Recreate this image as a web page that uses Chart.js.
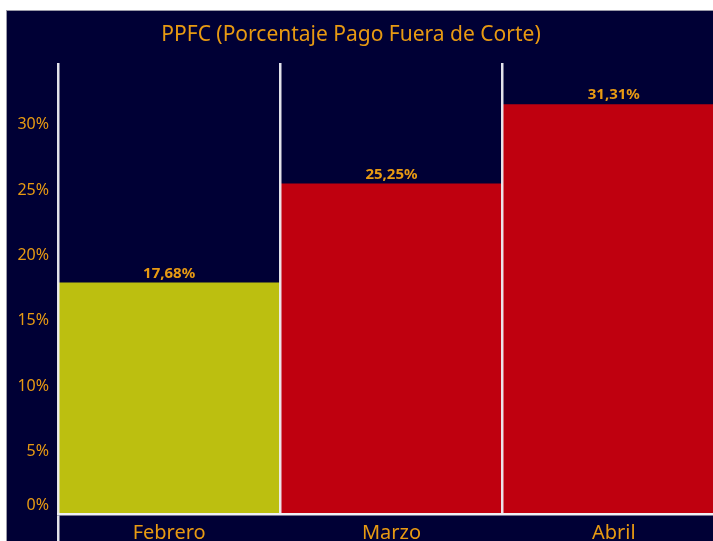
<!DOCTYPE html>
<html>
<head>
<meta charset="utf-8">
<script src="https://cdn.jsdelivr.net/npm/chart.js@4"></script>
<style>
  html, body { margin: 0; padding: 0; background: #ffffff; overflow: hidden; }
  #panel {
    position: absolute; left: 6px; top: 10px; width: 720px; height: 540px;
    background: #000035; overflow: hidden; border-top: 1px solid #9a9aa8; border-left: 1px solid #9a9aa8;
  }
  #chart { position: absolute; left: -30px; top: -1px; }
</style>
</head>
<body>
<div id="panel"><canvas id="chart" width="748" height="570"></canvas></div>
<script>
'use strict';

var months = ['Febrero', 'Marzo', 'Abril'];
var ppfcValues = [17.68, 25.25, 31.31];
var barColors = ['#bcbf10', '#bf000f', '#bf000f'];
var yTicks = [0, 5, 10, 15, 20, 25, 30];

var ORANGE = '#e89a12';
var FONT = '"Noto Sans", "Open Sans", sans-serif';
var LINE = 'rgba(238,238,244,0.95)';

var valueLabels = {
    id: 'valueLabels',
    afterDatasetsDraw: function(chart) {
        var ctx = chart.ctx;
        var meta = chart.getDatasetMeta(0);
        ctx.save();
        ctx.fillStyle = ORANGE;
        ctx.font = '700 15px ' + FONT;
        ctx.textAlign = 'center';
        ctx.textBaseline = 'bottom';
        meta.data.forEach(function(bar, i) {
            var txt = ppfcValues[i].toFixed(2).replace('.', ',') + '%';
            ctx.fillText(txt, bar.x, bar.y - 2);
        });
        ctx.restore();
    }
};

var ctx = document.getElementById('chart').getContext('2d');
new Chart(ctx, {
    type: 'bar',
    data: {
        labels: months,
        datasets: [{
            label: 'PPFC',
            data: ppfcValues,
            backgroundColor: barColors,
            borderWidth: 0,
            barPercentage: 1,
            categoryPercentage: 1
        }]
    },
    options: {
        responsive: false,
        animation: false,
        devicePixelRatio: 1,
        layout: { padding: 0 },
        plugins: {
            legend: { display: false },
            tooltip: { enabled: false },
            title: {
                display: true,
                text: 'PPFC (Porcentaje Pago Fuera de Corte)',
                color: ORANGE,
                font: { family: FONT, size: 21, weight: 'normal', lineHeight: 1.2 },
                padding: { top: 12, bottom: 15.8 }
            }
        },
        scales: {
            x: {
                grid: {
                    display: true,
                    z: 1,
                    offset: true,
                    color: LINE,
                    lineWidth: 2.5,
                    drawTicks: true,
                    tickLength: 30,
                    tickColor: function(c) { return c.index === 0 ? LINE : 'rgba(0,0,0,0)'; }
                },
                border: { display: true, color: '#f0f0f4', width: 2.5, z: 1 },
                ticks: {
                    color: ORANGE,
                    font: { family: FONT, size: 20 },
                    padding: -23
                },
                afterFit: function(scale) { scale.height = 66; }
            },
            y: {
                min: 0,
                max: 34.5,
                grid: { display: false, drawTicks: false },
                border: { display: false },
                afterBuildTicks: function(scale) {
                    scale.ticks = yTicks.map(function(v) { return { value: v }; });
                },
                ticks: {
                    color: ORANGE,
                    padding: 9,
                    labelOffset: 3,
                    font: function(c) {
                        var zero = c.tick && c.tick.value === 0;
                        return { family: FONT, size: 16, lineHeight: zero ? '23px' : 1.2 };
                    },
                    callback: function(v) {
                        return v === 0 ? ['0%', ''] : v + '%';
                    }
                },
                afterFit: function(scale) { scale.width = 81; }
            }
        }
    },
    plugins: [valueLabels]
});
</script>
</body>
</html>
